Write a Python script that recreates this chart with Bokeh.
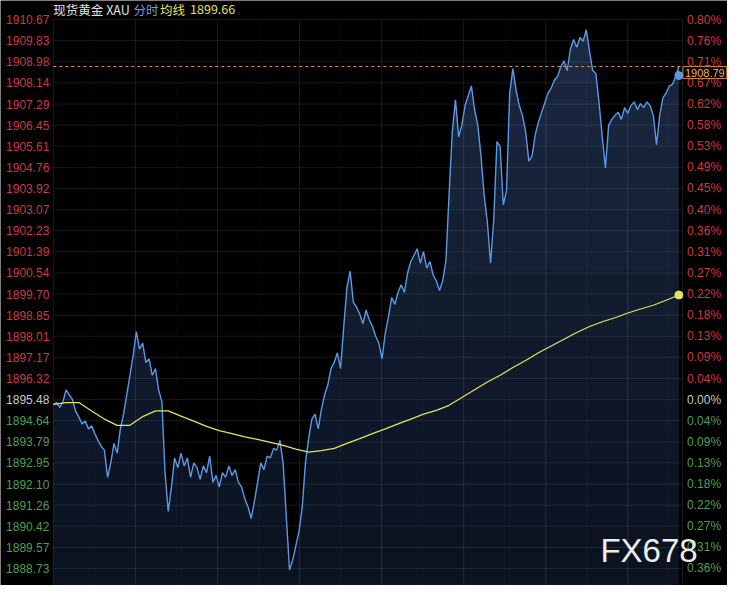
from bokeh.plotting import figure
from bokeh.models import ColumnDataSource, LabelSet, Label, Range1d
from bokeh.embed import file_html
from bokeh.resources import INLINE
from bokeh.core.properties import value

# ---------------- data ----------------
base_price = 1895.48          # previous close (0.00%)
last_price = 1908.79
avg_last = 1899.66
step_min = 7                  # minutes between price samples
avg_step_min = 28             # minutes between average-line samples
session_minutes = 1380

price = [
    1895.29, 1895.36, 1895.17, 1895.40, 1895.87, 1895.67, 1895.48, 1895.01, 1894.78, 1894.51,
    1894.62, 1894.31, 1894.43, 1894.12, 1893.85, 1893.61, 1893.46, 1892.37, 1892.95, 1893.73,
    1893.34, 1894.31, 1894.90, 1895.67, 1896.45, 1897.23, 1898.20, 1897.50, 1897.74, 1896.96,
    1897.11, 1896.45, 1896.72, 1895.87, 1895.40, 1892.56, 1891.01, 1891.98, 1893.15, 1892.76,
    1893.34, 1892.83, 1893.15, 1892.37, 1892.95, 1892.76, 1892.29, 1892.83, 1892.56, 1893.22,
    1892.17, 1892.45, 1891.98, 1892.56, 1892.37, 1892.83, 1892.45, 1892.68, 1892.17, 1891.98,
    1891.51, 1891.20, 1890.73, 1891.40, 1892.17, 1892.95, 1892.68, 1893.22, 1893.15, 1893.53,
    1893.46, 1893.85, 1892.95, 1890.81, 1888.67, 1889.06, 1889.64, 1890.23, 1891.20, 1892.95,
    1893.92, 1894.70, 1894.90, 1894.31, 1895.09, 1895.67, 1896.06, 1896.72, 1896.96, 1897.35,
    1896.72, 1898.40, 1899.95, 1900.61, 1899.37, 1899.18, 1898.90, 1898.51, 1899.06, 1898.67,
    1898.40, 1898.01, 1897.74, 1897.11, 1898.13, 1898.79, 1899.56, 1899.29, 1899.76, 1900.07,
    1899.76, 1900.54, 1901.00, 1901.24, 1901.51, 1900.93, 1901.39, 1900.73, 1901.00, 1900.46,
    1900.23, 1899.84, 1900.23, 1901.00, 1903.65, 1906.18, 1907.46, 1905.98, 1906.45, 1907.23,
    1907.62, 1908.01, 1907.07, 1906.45, 1905.21, 1903.65, 1902.56, 1900.93, 1902.68, 1905.79,
    1905.59, 1903.26, 1903.84, 1907.73, 1908.71, 1907.85, 1907.23, 1906.84, 1906.18, 1905.01,
    1905.21, 1906.06, 1906.57, 1906.96, 1907.34, 1907.73, 1907.93, 1908.24, 1908.39, 1908.78,
    1909.02, 1908.63, 1909.48, 1909.87, 1909.56, 1909.95, 1909.80, 1910.26, 1909.41, 1908.63,
    1908.51, 1907.34, 1905.98, 1904.74, 1906.45, 1906.68, 1906.84, 1906.96, 1906.68, 1907.15,
    1906.92, 1907.23, 1907.38, 1907.07, 1907.31, 1907.15, 1907.38, 1907.23, 1906.84, 1905.67,
    1906.84, 1907.54, 1907.73, 1908.01, 1908.08, 1908.39, 1908.79,
]

avg_line = [
    1895.29, 1895.36, 1895.36, 1895.02, 1894.70, 1894.45, 1894.45, 1894.80, 1895.03, 1895.03,
    1894.82, 1894.62, 1894.41, 1894.24, 1894.12, 1893.99, 1893.89, 1893.77, 1893.65, 1893.50,
    1893.38, 1893.44, 1893.53, 1893.73, 1893.92, 1894.12, 1894.31, 1894.51, 1894.70, 1894.90,
    1895.05, 1895.25, 1895.56, 1895.87, 1896.18, 1896.45, 1896.76, 1897.04, 1897.35, 1897.62,
    1897.89, 1898.16, 1898.40, 1898.59, 1898.75, 1898.94, 1899.10, 1899.25, 1899.45, 1899.66,
]
last_dot_price = 1908.43

tick_values = [1910.67, 1909.83, 1908.98, 1908.14, 1907.29, 1906.45, 1905.61, 1904.76, 1903.92,
               1903.07, 1902.23, 1901.39, 1900.54, 1899.70, 1898.85, 1898.01, 1897.17, 1896.32,
               1895.48, 1894.64, 1893.79, 1892.95, 1892.10, 1891.26, 1890.42, 1889.57, 1888.73]
tick_labels = ["1910.67", "1909.83", "1908.98", "1908.14", "1907.29", "1906.45", "1905.61",
               "1904.76", "1903.92", "1903.07", "1902.23", "1901.39", "1900.54", "1899.70",
               "1898.85", "1898.01", "1897.17", "1896.32", "1895.48", "1894.64", "1893.79",
               "1892.95", "1892.10", "1891.26", "1890.42", "1889.57", "1888.73"]
pct_labels = ["0.80%", "0.76%", "0.71%", "0.67%", "0.62%", "0.58%", "0.53%", "0.49%", "0.45%",
              "0.40%", "0.36%", "0.31%", "0.27%", "0.22%", "0.18%", "0.13%", "0.09%", "0.04%",
              "0.00%", "0.04%", "0.09%", "0.13%", "0.18%", "0.22%", "0.27%", "0.31%", "0.36%"]
time_major = [0, 180, 360, 540, 720, 900, 1080, 1260, 1380]
time_minor = [90, 270, 450, 630, 810, 990, 1170, 1350]

# ---------------- styling ----------------
RED = "#cc3a48"
GREEN = "#4f9f58"
WHITE = "#c8c8c8"
BLUE = "#5b98e6"
YELLOW = "#e6e25a"
ORANGE = "#e39a55"

minutes = [i * step_min for i in range(len(price))]
avg_minutes = [i * avg_step_min for i in range(len(avg_line))]

# the frame covers the whole canvas; the chart area is minutes 0..1380
x_lo, x_hi = -115.9, 1478.7
y_lo, y_hi = 1888.05, 1911.43

p = figure(width=727, height=585, output_backend="svg", toolbar_location=None,
           x_range=Range1d(x_lo, x_hi), y_range=Range1d(y_lo, y_hi),
           x_axis_location=None, y_axis_location=None,
           min_border_left=0, min_border_right=0, min_border_top=0, min_border_bottom=0)
p.background_fill_color = "#000000"
p.border_fill_color = "#000000"
p.outline_line_color = None
p.xgrid.visible = False
p.ygrid.visible = False

top = tick_values[0]

# area under the price line with a vertical fade
p.varea(x=minutes, y1=[y_lo] * len(minutes), y2=price, fill_color="#1b2942", fill_alpha=1.0)
nb = 9
for k in range(1, nb):
    lvl = top - k * (top - y_lo) / nb
    p.varea(x=minutes, y1=[y_lo] * len(minutes), y2=[min(v, lvl) for v in price],
            fill_color="#000000", fill_alpha=0.075)

# grid
p.segment(x0=[0] * len(tick_values), x1=[session_minutes] * len(tick_values),
          y0=tick_values, y1=tick_values, line_color="#ffffff", line_alpha=0.09, line_width=1)
p.segment(x0=time_major, x1=time_major, y0=[top] * len(time_major), y1=[y_lo] * len(time_major),
          line_color="#ffffff", line_alpha=0.10, line_width=1)
p.segment(x0=time_minor, x1=time_minor, y0=[top] * len(time_minor), y1=[y_lo] * len(time_minor),
          line_color="#ffffff", line_alpha=0.07, line_width=1, line_dash="1 2")

p.line(minutes, price, line_color=BLUE, line_width=1.4)
p.line(avg_minutes, avg_line, line_color=YELLOW, line_width=1.2)

# last price dashed line
p.segment(x0=[0], x1=[session_minutes], y0=[last_price], y1=[last_price],
          line_color=ORANGE, line_dash="3 3", line_width=1)

p.scatter([minutes[-1]], [last_dot_price], size=8, color=BLUE)
p.scatter([avg_minutes[-1]], [avg_line[-1]], size=8, color=YELLOW)

# side labels
colors = [RED if v > base_price + 1e-9 else (WHITE if abs(v - base_price) < 1e-9 else GREEN)
          for v in tick_values]
src = ColumnDataSource(dict(y=tick_values, lab=tick_labels, pct=pct_labels, c=colors,
                            xl=[-8.6] * len(tick_values), xr=[1390.0] * len(tick_values)))
p.add_layout(LabelSet(x="xl", y="y", text="lab", source=src, text_color="c",
                      text_align="right", text_baseline="middle", text_font_size="12px",
                      text_font=value("Liberation Sans")))
p.add_layout(LabelSet(x="xr", y="y", text="pct", source=src, text_color="c",
                      text_align="left", text_baseline="middle", text_font_size="12px",
                      text_font=value("Liberation Sans")))

# last price box
p.add_layout(Label(x=1381, y=last_price, text=f"{last_price:.2f}", text_baseline="top",
                   text_align="left", text_color="#f0b070", text_font_size="11px",
                   text_font="Liberation Sans", border_line_color="#d9843a",
                   background_fill_color="#000000", padding=2))

# header
hy = 1911.08
for x, t, c in [(0, "现货黄金 XAU", "#e0e0e0"), (176, "分时", "#6e9de0"),
                (234, "均线", "#e2e070"), (300, f"{avg_last:.2f}", "#e2e070")]:
    p.add_layout(Label(x=x, y=hy, text=t, text_color=c, text_font_size="12.5px",
                       text_baseline="middle", text_align="left",
                       text_font="Noto Sans CJK SC"))

# watermark
p.add_layout(Label(x=1200, y=1889.45, text="FX678", text_color="#ececec",
                   text_font_size="33px", text_baseline="middle", text_align="left",
                   text_font="Liberation Sans"))

open("out.html", "w").write(file_html(p, INLINE))
